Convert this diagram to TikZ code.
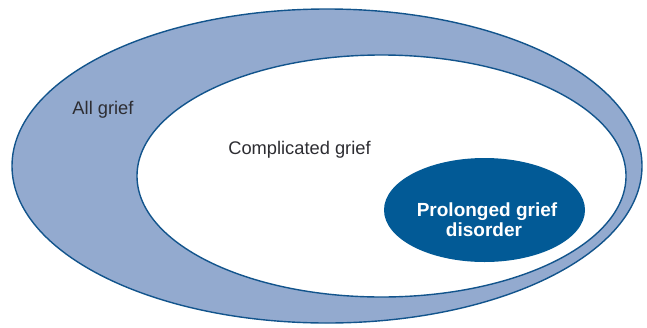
\documentclass[tikz,border=0pt]{standalone}
\usepackage{fontspec}
\setmainfont{Liberation Sans}
\usetikzlibrary{shapes.geometric}
\definecolor{ringfill}{RGB}{147,170,207}
\definecolor{edgeblue}{RGB}{18,84,140}
\definecolor{darkfill}{RGB}{2,90,150}
\definecolor{txtgrey}{RGB}{45,45,50}
\tikzset{
  blob/.style={ellipse, draw=edgeblue, line width=1.4pt, inner sep=0pt, outer sep=0pt},
  lbl/.style={anchor=base, inner sep=0pt, text=txtgrey, font=\fontsize{18.3}{21}\selectfont},
  blbl/.style={anchor=base, inner sep=0pt, text=white, align=center, font=\fontsize{19}{20}\selectfont\bfseries}
}
\begin{document}
\begin{tikzpicture}[x=1pt,y=-1pt]
\useasboundingbox (0,0) rectangle (647,327);
\node[blob, fill=ringfill, minimum width=630, minimum height=314] (all) at (327,166) {};
\node[blob, fill=white, minimum width=489, minimum height=242] (comp) at (381.5,176) {};
\node[blob, draw=none, fill=darkfill, minimum width=201, minimum height=104] (pgd) at (484.5,210) {};
\node[lbl] (allt) at (103,114) {All grief};
\node[lbl] (compt) at (299.5,154) {Complicated grief};
\node[blbl] (pgdt1) at (487,216.5) {Prolonged grief};
\node[blbl] (pgdt2) at (484,236.5) {disorder};
\end{tikzpicture}
\end{document}
